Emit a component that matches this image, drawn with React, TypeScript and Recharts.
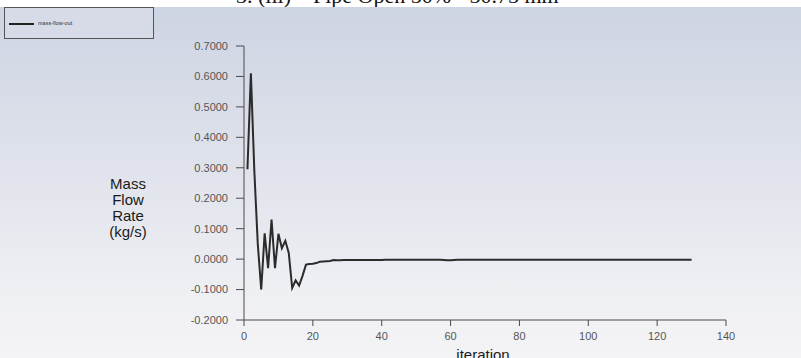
import { Line, LineChart, XAxis, YAxis } from 'recharts';

// mass flow rate monitor, one value per iteration starting at 1
const massFlow = [
    0.295, 0.61, 0.29, 0.05, -0.1, 0.085, -0.03, 0.13, -0.03, 0.083,
    0.036, 0.06, 0.02, -0.095, -0.07, -0.087, -0.055, -0.018, -0.016, -0.015,
    -0.013, -0.009, -0.008, -0.007, -0.006, -0.003, -0.004, -0.004, -0.003, -0.003,
    -0.003, -0.003, -0.003, -0.003, -0.003, -0.003, -0.003, -0.003, -0.003, -0.003,
    -0.002, -0.002, -0.002, -0.002, -0.002, -0.002, -0.002, -0.002, -0.002, -0.002,
    -0.002, -0.002, -0.002, -0.002, -0.002, -0.002, -0.002, -0.003, -0.004, -0.004,
    -0.003, -0.002, -0.002, -0.002, -0.002, -0.002, -0.002, -0.002, -0.002, -0.002,
    -0.002, -0.002, -0.002, -0.002, -0.002, -0.002, -0.002, -0.002, -0.002, -0.002,
    -0.002, -0.002, -0.002, -0.002, -0.002, -0.002, -0.002, -0.002, -0.002, -0.002,
    -0.002, -0.002, -0.002, -0.002, -0.002, -0.002, -0.002, -0.002, -0.002, -0.002,
    -0.002, -0.002, -0.002, -0.002, -0.002, -0.002, -0.002, -0.002, -0.002, -0.002,
    -0.002, -0.002, -0.002, -0.002, -0.002, -0.002, -0.002, -0.002, -0.002, -0.002,
    -0.002, -0.002, -0.002, -0.002, -0.002, -0.002, -0.002, -0.002, -0.002, -0.002,
];

const xTicks = [0, 20, 40, 60, 80, 100, 120, 140];
const xMinorTicks = [10, 30, 50, 70, 90, 110, 130];
const yTicks = [-0.2, -0.1, 0, 0.1, 0.2, 0.3, 0.4, 0.5, 0.6, 0.7];
const yMinorTicks = [
    -0.18, -0.16, -0.14, -0.12, -0.08, -0.06, -0.04, -0.02, 0.02, 0.04, 0.06, 0.08,
    0.12, 0.14, 0.16, 0.18, 0.22, 0.24, 0.26, 0.28, 0.32, 0.34, 0.36, 0.38,
    0.42, 0.44, 0.46, 0.48, 0.52, 0.54, 0.56, 0.58, 0.62, 0.64, 0.66, 0.68,
];

const seriesName = 'mass-flow-out';
const title = '3. (iii) – Pipe Open 50% - 50.75 mm';
const yLabelLines = ['Mass', 'Flow', 'Rate', '(kg/s)'];

const data = massFlow.map((value, i) => ({ iteration: i + 1, value }));

const axisColor = '#4a4a4a';
const tickFont = { fontSize: 11, fill: '#555', fontFamily: 'Liberation Sans, Arial, sans-serif' };

export default function App() {
    return (
        <div
            style={{
                position: 'fixed',
                left: 0,
                top: 0,
                width: 801,
                height: 358,
                overflow: 'hidden',
                background: 'linear-gradient(to bottom, #ffffff 0px, #ffffff 7px, #cdd4e3 7px, #dfe2eb 45%, #eeeff3 80%, #f4f4f6 100%)',
            }}
        >
            <div
                style={{
                    position: 'absolute',
                    left: 0,
                    top: 0,
                    width: 801,
                    height: 7,
                    overflow: 'hidden',
                }}
            >
                <div
                    style={{
                        position: 'absolute',
                        left: 236,
                        top: -15,
                        fontFamily: 'Liberation Serif, Times New Roman, serif',
                        fontSize: 22,
                        lineHeight: '22px',
                        whiteSpace: 'nowrap',
                        color: '#111',
                    }}
                >
                    {title}
                </div>
            </div>

            <div
                style={{
                    position: 'absolute',
                    left: 4,
                    top: 7,
                    width: 148,
                    height: 30,
                    border: '1px solid #555',
                    background: '#d6dbe7',
                }}
            >
                <div style={{ position: 'absolute', left: 4, top: 15, width: 25, height: 1.5, background: '#222' }} />
                <div
                    style={{
                        position: 'absolute',
                        left: 33,
                        top: 12,
                        fontSize: 5.5,
                        lineHeight: '7px',
                        fontFamily: 'Liberation Sans, Arial, sans-serif',
                        color: '#333',
                        whiteSpace: 'nowrap',
                    }}
                >
                    {seriesName}
                </div>
            </div>

            <div
                style={{
                    position: 'absolute',
                    left: 88,
                    top: 176,
                    width: 80,
                    textAlign: 'center',
                    fontFamily: 'Liberation Sans, Arial, sans-serif',
                    fontSize: 15,
                    lineHeight: '16px',
                    color: '#1a1a1a',
                }}
            >
                {yLabelLines.map((l) => (
                    <div key={l}>{l}</div>
                ))}
            </div>

            <div
                style={{
                    position: 'absolute',
                    left: 443,
                    top: 347,
                    width: 80,
                    textAlign: 'center',
                    fontFamily: 'Liberation Sans, Arial, sans-serif',
                    fontSize: 15,
                    lineHeight: '15px',
                    color: '#1a1a1a',
                }}
            >
                iteration
            </div>

            <div style={{ position: 'absolute', left: 0, top: 0 }}>
                <LineChart width={801} height={358} data={data} margin={{ top: 46, right: 75, left: 184, bottom: 8 }}>
                    <XAxis
                        dataKey="iteration"
                        type="number"
                        domain={[0, 140]}
                        ticks={xTicks}
                        allowDataOverflow
                        height={30}
                        stroke={axisColor}
                        tickSize={6}
                        tickMargin={6}
                        tick={tickFont}
                    />
                    <XAxis
                        xAxisId="minor"
                        dataKey="iteration"
                        type="number"
                        domain={[0, 140]}
                        ticks={xMinorTicks}
                        height={0}
                        axisLine={false}
                        stroke={axisColor}
                        tickSize={3}
                        tick={false}
                    />
                    <YAxis
                        type="number"
                        domain={[-0.2, 0.7]}
                        ticks={yTicks}
                        allowDataOverflow
                        width={60}
                        stroke={axisColor}
                        tickSize={8}
                        tickMargin={8}
                        tick={tickFont}
                        tickFormatter={(v: number) => v.toFixed(4)}
                    />
                    <YAxis
                        yAxisId="minor"
                        type="number"
                        domain={[-0.2, 0.7]}
                        ticks={yMinorTicks}
                        width={0}
                        axisLine={false}
                        stroke={axisColor}
                        tickSize={4}
                        tick={false}
                    />
                    <Line
                        type="linear"
                        dataKey="value"
                        name={seriesName}
                        stroke="#2b2b2b"
                        strokeWidth={2}
                        dot={false}
                        isAnimationActive={false}
                    />
                </LineChart>
            </div>
        </div>
    );
}
